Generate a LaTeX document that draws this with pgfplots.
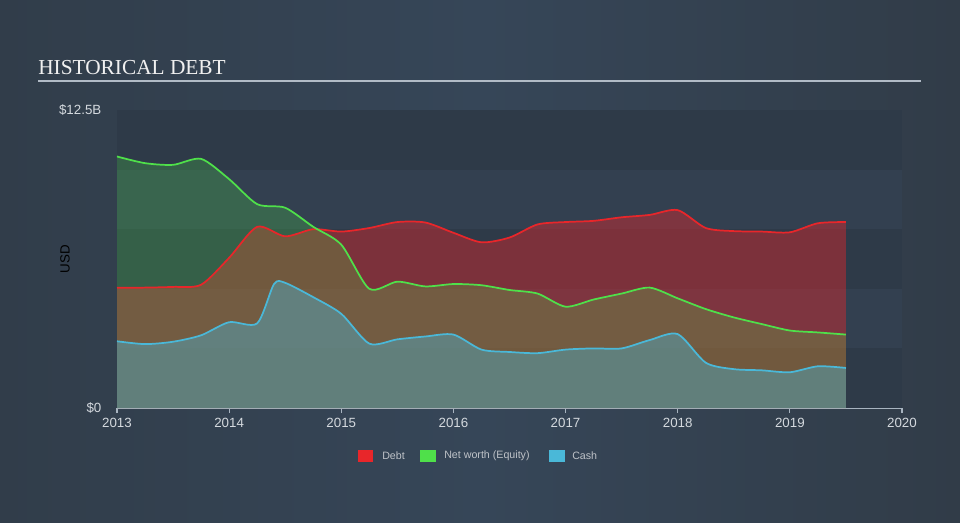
\documentclass[border=0pt]{standalone}
\usepackage{pgfplots}
\pgfplotsset{compat=1.18}
\usepackage{fontspec}
\setmainfont{Liberation Sans}
\newfontfamily\titlefont{Liberation Serif}
\definecolor{bgL}{HTML}{313D4A}
\definecolor{bgM}{HTML}{364658}
\definecolor{bgR}{HTML}{313C48}
\definecolor{bandD}{HTML}{2E3A48}
\definecolor{bandL}{HTML}{334050}
\definecolor{debtC}{HTML}{E8262A}
\definecolor{eqC}{HTML}{4FE04A}
\definecolor{cashC}{HTML}{4AB8D8}
\definecolor{tickC}{HTML}{D4D9DE}
\definecolor{axisC}{HTML}{A8B4C0}
\begin{document}
\begin{tikzpicture}
\begin{scope}[x=0.75pt,y=0.75pt]
\shade[left color=bgL, right color=bgR, middle color=bgM] (0,0) rectangle (960,522);
\node[anchor=base west, text=white!94!black, font=\titlefont\fontsize{16}{18}\selectfont, inner sep=0pt] at (38,447) {HISTORICAL DEBT};
\draw[color=axisC!90!white, line width=1.5pt] (38,441) -- (921,441);
% legend
\fill[debtC] (358,60) rectangle (373,72);
\node[anchor=west, inner sep=0pt, text=tickC!90!black, font=\fontsize{8}{10}\selectfont] at (382,66) {Debt};
\fill[eqC] (420,60) rectangle (436,72);
\node[anchor=west, inner sep=0pt, text=tickC!90!black, font=\fontsize{8}{10}\selectfont] at (444,66) {Net worth (Equity)};
\fill[cashC] (549,60) rectangle (565,72);
\node[anchor=west, inner sep=0pt, text=tickC!90!black, font=\fontsize{8}{10}\selectfont] at (572,66) {Cash};
\end{scope}
\begin{axis}[
  at={(87.75pt,85.5pt)}, anchor=south west,
  scale only axis, width=588.75pt, height=223.5pt,
  xmin=2013, xmax=2020, ymin=0, ymax=12.5,
  axis x line*=bottom, axis y line*=left,
  x axis line style={draw=axisC, line width=0.8pt},
  y axis line style={draw=none},
  xtick={2013,2014,2015,2016,2017,2018,2019,2020},
  xticklabels={2013,2014,2015,2016,2017,2018,2019,2020},
  ytick={0,12.5}, yticklabels={\$0,\$12.5B},
  xtick style={draw=axisC, line width=0.8pt},
  ytick style={draw=none},
  tick align=outside, major tick length=3.75pt,
  xticklabel style={font=\fontsize{10}{12}\selectfont, text=tickC},
  yticklabel style={font=\fontsize{10}{12}\selectfont, text=tickC, xshift=-4.5pt},
  ylabel={USD},
  ylabel style={font=\fontsize{8}{10}\selectfont, text=tickC},
  every axis y label/.style={at={(axis description cs:0,0.5)}, xshift=-39pt, rotate=90, anchor=center},
  clip=false,
]
\fill[bandD] (axis cs:2013,0) rectangle (axis cs:2020,2.5);
\fill[bandL] (axis cs:2013,2.5) rectangle (axis cs:2020,5);
\fill[bandD] (axis cs:2013,5) rectangle (axis cs:2020,7.5);
\fill[bandL] (axis cs:2013,7.5) rectangle (axis cs:2020,10);
\fill[bandD] (axis cs:2013,10) rectangle (axis cs:2020,12.5);
% debt fill
\addplot[draw=none, fill=debtC, fill opacity=0.42, smooth, tension=0.45] coordinates {
(2013,5.04)(2013.25,5.05)(2013.5,5.08)(2013.75,5.17)(2014,6.3)(2014.25,7.6)(2014.5,7.2)(2014.75,7.5)(2015,7.4)(2015.25,7.55)(2015.5,7.8)(2015.75,7.78)(2016,7.35)(2016.25,6.95)(2016.5,7.15)(2016.75,7.7)(2017,7.8)(2017.25,7.85)(2017.5,8.0)(2017.75,8.1)(2018,8.3)(2018.25,7.55)(2018.5,7.42)(2018.75,7.4)(2019,7.37)(2019.25,7.75)(2019.5,7.8)
} \closedcycle;
% equity fill
\addplot[draw=none, fill=eqC, fill opacity=0.23, smooth, tension=0.45] coordinates {
(2013,10.55)(2013.25,10.27)(2013.5,10.2)(2013.75,10.45)(2014,9.6)(2014.25,8.55)(2014.5,8.4)(2014.75,7.6)(2015,6.85)(2015.25,5.0)(2015.5,5.3)(2015.75,5.1)(2016,5.2)(2016.25,5.15)(2016.5,4.95)(2016.75,4.8)(2017,4.25)(2017.25,4.55)(2017.5,4.8)(2017.75,5.05)(2018,4.6)(2018.25,4.15)(2018.5,3.8)(2018.75,3.52)(2019,3.25)(2019.25,3.17)(2019.5,3.08)
} \closedcycle;
% cash fill
\addplot[draw=none, fill=cashC, fill opacity=0.4, smooth, tension=0.45] coordinates {
(2013,2.8)(2013.25,2.68)(2013.5,2.78)(2013.75,3.05)(2014,3.6)(2014.25,3.55)(2014.4,5.2)(2014.5,5.25)(2014.75,4.65)(2015,3.95)(2015.25,2.7)(2015.5,2.88)(2015.75,3.0)(2016,3.08)(2016.25,2.45)(2016.5,2.35)(2016.75,2.3)(2017,2.45)(2017.25,2.5)(2017.5,2.5)(2017.75,2.85)(2018,3.1)(2018.25,1.9)(2018.5,1.63)(2018.75,1.58)(2019,1.5)(2019.25,1.75)(2019.5,1.68)
} \closedcycle;
% lines
\addplot[debtC, line width=1.3pt, smooth, tension=0.45] coordinates {
(2013,5.04)(2013.25,5.05)(2013.5,5.08)(2013.75,5.17)(2014,6.3)(2014.25,7.6)(2014.5,7.2)(2014.75,7.5)(2015,7.4)(2015.25,7.55)(2015.5,7.8)(2015.75,7.78)(2016,7.35)(2016.25,6.95)(2016.5,7.15)(2016.75,7.7)(2017,7.8)(2017.25,7.85)(2017.5,8.0)(2017.75,8.1)(2018,8.3)(2018.25,7.55)(2018.5,7.42)(2018.75,7.4)(2019,7.37)(2019.25,7.75)(2019.5,7.8)
};
\addplot[eqC, line width=1.3pt, smooth, tension=0.45] coordinates {
(2013,10.55)(2013.25,10.27)(2013.5,10.2)(2013.75,10.45)(2014,9.6)(2014.25,8.55)(2014.5,8.4)(2014.75,7.6)(2015,6.85)(2015.25,5.0)(2015.5,5.3)(2015.75,5.1)(2016,5.2)(2016.25,5.15)(2016.5,4.95)(2016.75,4.8)(2017,4.25)(2017.25,4.55)(2017.5,4.8)(2017.75,5.05)(2018,4.6)(2018.25,4.15)(2018.5,3.8)(2018.75,3.52)(2019,3.25)(2019.25,3.17)(2019.5,3.08)
};
\addplot[cashC, line width=1.3pt, smooth, tension=0.45] coordinates {
(2013,2.8)(2013.25,2.68)(2013.5,2.78)(2013.75,3.05)(2014,3.6)(2014.25,3.55)(2014.4,5.2)(2014.5,5.25)(2014.75,4.65)(2015,3.95)(2015.25,2.7)(2015.5,2.88)(2015.75,3.0)(2016,3.08)(2016.25,2.45)(2016.5,2.35)(2016.75,2.3)(2017,2.45)(2017.25,2.5)(2017.5,2.5)(2017.75,2.85)(2018,3.1)(2018.25,1.9)(2018.5,1.63)(2018.75,1.58)(2019,1.5)(2019.25,1.75)(2019.5,1.68)
};
\end{axis}
\end{tikzpicture}
\end{document}
